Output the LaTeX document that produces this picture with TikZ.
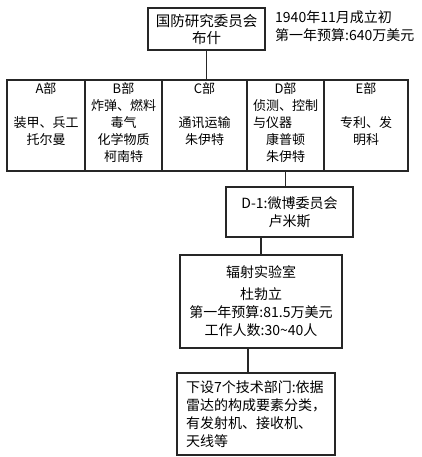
\documentclass[tikz,border=0pt]{standalone}
\usepackage{fontspec}
\newfontfamily\cjk{Noto Sans CJK SC}
\begin{document}
\begin{tikzpicture}[x=1pt, y=-1pt, font=\cjk\fontsize{14}{18}\selectfont,
    kutu/.style={draw=black!85, line width=1.2pt, inner sep=4pt, align=center},
    bolum/.style={draw=black!85, line width=1.2pt, minimum height=91pt, inner sep=0pt},
    metin/.style={font=\cjk\fontsize{13}{17}\selectfont, align=center, inner sep=2pt},
    cizgi/.style={black!85, line width=1.2pt}]
  \useasboundingbox (0,0) rectangle (421,457);

  % ust kutu: komite ve yaninda not
  \node[kutu, minimum width=117pt, minimum height=42pt,
    font=\cjk\fontsize{14.5}{17}\selectfont] (ust) at (206.5,29) {国防研究委员会\\布什};
  \node[anchor=west, align=left, inner sep=0pt] (not) at (275,26)
    {1940年11月成立初\\第一年预算:640万美元};

  % bes bolum: A--E
  \node[bolum, minimum width=78pt] (A) at (46,125.5) {};
  \node[bolum, minimum width=77pt] (B) at (123.5,125.5) {};
  \node[bolum, minimum width=85pt] (C) at (204.5,125.5) {};
  \node[bolum, minimum width=77pt] (D) at (285.5,125.5) {};
  \node[bolum, minimum width=84pt] (E) at (366,125.5) {};
  \node[metin, anchor=north] (Ametin) at ([yshift=-1pt]A.north) {A部\\[17pt]装甲、兵工\\托尔曼};
  \node[metin, anchor=north] (Bmetin) at ([yshift=-1pt]B.north) {B部\\炸弹、燃料\\毒气\\化学物质\\柯南特};
  \node[metin, anchor=north] (Cmetin) at ([yshift=-1pt]C.north) {C部\\[17pt]通讯运输\\朱伊特};
  \node[metin, anchor=north] (Dmetin) at ([yshift=-1pt]D.north)
    {D部\\侦测、控制\\\makebox[65pt][l]{与仪器}\\康普顿\\朱伊特};
  \node[metin, anchor=north] (Emetin) at ([yshift=-1pt]E.north) {E部\\[17pt]专利、发\\明科};

  % alt zincir: D-1, laboratuvar, teknik bolumler
  \node[kutu, minimum width=127pt, minimum height=50pt] (d1) at (289.5,212) {D-1:微博委员会\\卢米斯};
  \node[kutu, minimum width=162pt, minimum height=93pt] (lab) at (261,301.5)
    {辐射实验室\\[4pt]杜勃立\\第一年预算:81.5万美元\\工作人数:30\textasciitilde 40人};
  \node[kutu, minimum width=158pt, minimum height=82pt, align=left] (alt) at (256,414)
    {下设7个技术部门:依据\\雷达的构成要素分类，\\有发射机、接收机、\\天线等};

  % baglantilar
  \draw[cizgi] (ust.south) -- (ust.south |- C.north);
  \draw[cizgi] (D.south) -- (D.south |- d1.north);
  \draw[cizgi] (lab.north) -- (lab.north |- d1.south);
  \draw[cizgi] ([xshift=-8pt]alt.north) -- ([xshift=-8pt]alt.north |- lab.south);
\end{tikzpicture}
\end{document}
